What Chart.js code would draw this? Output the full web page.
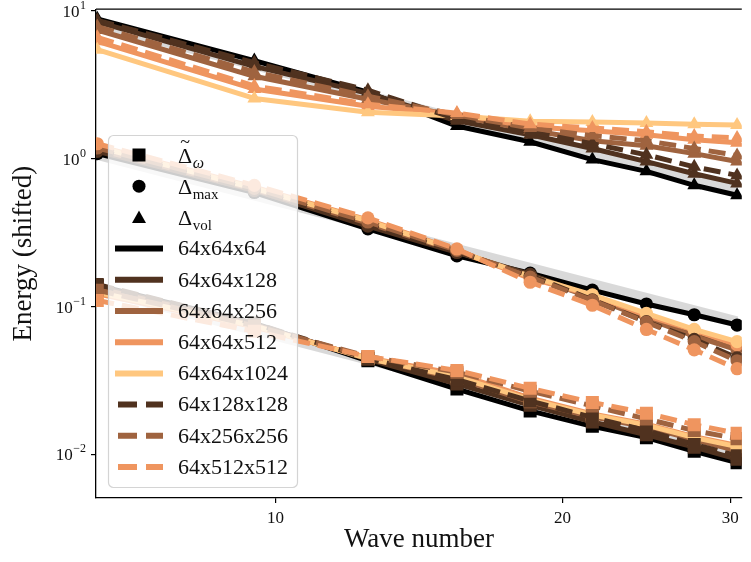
<!DOCTYPE html>
<html>
<head>
<meta charset="utf-8">
<script src="https://cdn.jsdelivr.net/npm/chart.js@4.4.1/dist/chart.umd.min.js"></script>
<style>
html,body{margin:0;padding:0;background:#fff;overflow:hidden}
canvas{display:block}
</style>
</head>
<body>
<canvas id="c" width="751" height="562"></canvas>
<script>
// ---------------- data ----------------
const waveNumbers = [6.5, 9.5, 12.5, 15.5, 18.5, 21.5, 24.5, 27.5, 30.5];
const resolutions = ['64x64x64','64x64x128','64x64x256','64x64x512','64x64x1024','64x128x128','64x256x256','64x512x512'];
const xTickValues = [10, 20, 30];
const yTickValues = [0.01, 0.1, 1, 10];

// Delta_vol (triangles)
const vol_64x64x64   = [8.8, 4.6, 2.81, 1.66, 1.30, 0.985, 0.82, 0.66, 0.565];
const vol_64x64x128  = [8.4, 4.2, 2.76, 1.80, 1.45, 1.17, 0.955, 0.79, 0.68];
const vol_64x64x256  = [7.4, 3.6, 2.52, 1.94, 1.56, 1.32, 1.22, 1.08, 0.955];
const vol_64x64x512  = [6.2, 2.95, 2.26, 2.00, 1.64, 1.54, 1.45, 1.34, 1.28];
const vol_64x64x1024 = [5.45, 2.55, 2.06, 1.94, 1.79, 1.77, 1.74, 1.71, 1.69];
const vol_64x128x128 = [8.6, 4.45, 2.9, 1.85, 1.52, 1.26, 1.06, 0.88, 0.77];
const vol_64x256x256 = [7.8, 3.85, 2.64, 1.97, 1.61, 1.43, 1.32, 1.17, 1.05];
const vol_64x512x512 = [6.6, 3.1, 2.33, 2.03, 1.71, 1.61, 1.52, 1.42, 1.38];

// Delta_max (circles)
const max_64x64x64   = [1.08, 0.59, 0.335, 0.22, 0.168, 0.129, 0.104, 0.088, 0.075];
const max_64x64x128  = [1.12, 0.61, 0.35, 0.232, 0.165, 0.116, 0.085, 0.067, 0.053];
const max_64x64x256  = [1.15, 0.62, 0.367, 0.236, 0.16, 0.115, 0.083, 0.063, 0.051];
const max_64x64x512  = [1.22, 0.64, 0.385, 0.24, 0.155, 0.119, 0.087, 0.069, 0.055];
const max_64x64x1024 = [1.2, 0.63, 0.38, 0.238, 0.16, 0.12, 0.09, 0.07, 0.058];
const max_64x128x128 = [1.14, 0.61, 0.357, 0.234, 0.162, 0.111, 0.079, 0.06, 0.045];
const max_64x256x256 = [1.18, 0.63, 0.373, 0.24, 0.158, 0.11, 0.0785, 0.058, 0.043];
const max_64x512x512 = [1.26, 0.66, 0.397, 0.245, 0.146, 0.102, 0.07, 0.051, 0.038];

// tilde Delta_omega (squares)
const om_64x64x64   = [0.139, 0.077, 0.043, 0.0277, 0.0197, 0.0155, 0.013, 0.0105, 0.0088];
const om_64x64x128  = [0.137, 0.076, 0.044, 0.030, 0.0215, 0.0166, 0.0136, 0.0112, 0.0093];
const om_64x64x256  = [0.133, 0.075, 0.0445, 0.0327, 0.0227, 0.018, 0.0153, 0.0126, 0.0106];
const om_64x64x512  = [0.122, 0.073, 0.045, 0.035, 0.024, 0.0188, 0.016, 0.0132, 0.0115];
const om_64x64x1024 = [0.125, 0.074, 0.0445, 0.0335, 0.0235, 0.0185, 0.0158, 0.013, 0.0113];
const om_64x128x128 = [0.141, 0.077, 0.0445, 0.032, 0.023, 0.0178, 0.0145, 0.0117, 0.0098];
const om_64x256x256 = [0.129, 0.074, 0.046, 0.036, 0.0268, 0.0213, 0.0174, 0.0145, 0.0128];
const om_64x512x512 = [0.11, 0.068, 0.046, 0.037, 0.028, 0.0225, 0.019, 0.0159, 0.0139];

// grey reference lines (end points at first and last wave number)
const refWaveNumbers = [6.5, 30.5];
const refVol   = [8.0, 0.61];
const refMax   = [1.05, 0.08];
const refOmega = [0.129, 0.0098];

// ---------------- styling ----------------
const copper = ['#000000', '#50321f', '#9f633f', '#ef955f', '#ffc77f'];
const resStyle = [
  {c: copper[0], dash: []}, {c: copper[1], dash: []}, {c: copper[2], dash: []},
  {c: copper[3], dash: []}, {c: copper[4], dash: []},
  {c: copper[1], dash: [17, 8]}, {c: copper[2], dash: [17, 8]}, {c: copper[3], dash: [17, 8]}
];
const groups = [
  {style: 'rect', radius: 9.2, series: [om_64x64x64, om_64x64x128, om_64x64x256, om_64x64x512, om_64x64x1024, om_64x128x128, om_64x256x256, om_64x512x512]},
  {style: 'circle', radius: 6.6, series: [max_64x64x64, max_64x64x128, max_64x64x256, max_64x64x512, max_64x64x1024, max_64x128x128, max_64x256x256, max_64x512x512]},
  {style: 'triangle', radius: 8, series: [vol_64x64x64, vol_64x64x128, vol_64x64x256, vol_64x64x512, vol_64x64x1024, vol_64x128x128, vol_64x256x256, vol_64x512x512]}
];
const LW = 5;
const SERIF = '"Liberation Serif", "DejaVu Serif", serif';

const datasets = [];
[refVol, refMax, refOmega].forEach((ref, i) => {
  datasets.push({
    label: 'ref' + i,
    data: refWaveNumbers.map((x, j) => ({x, y: ref[j]})),
    borderColor: 'rgba(0,0,0,0.15)', borderWidth: 9, pointRadius: 0,
    borderCapStyle: 'butt', fill: false, order: 1000, clip: 0
  });
});
let plotIndex = 0;
resolutions.forEach((res, r) => {
  groups.forEach(g => {
    const vals = g.series[r];
    datasets.push({
      label: res,
      data: waveNumbers.map((x, j) => ({x, y: vals[j]})),
      borderColor: resStyle[r].c,
      backgroundColor: resStyle[r].c,
      borderWidth: LW,
      borderDash: resStyle[r].dash,
      borderCapStyle: 'butt',
      borderJoinStyle: 'round',
      pointStyle: g.style,
      pointRadius: g.radius,
      pointBackgroundColor: resStyle[r].c,
      pointBorderColor: resStyle[r].c,
      pointBorderWidth: 0,
      tension: 0,
      fill: false,
      clip: 0,
      order: -(plotIndex++)
    });
  });
});

// ---------------- plugins ----------------
const frameAndLabels = {
  id: 'frameAndLabels',
  afterDraw(chart) {
    const {ctx, chartArea} = chart;
    const ys = chart.scales.y;
    ctx.save();
    // top spine
    ctx.strokeStyle = '#000'; ctx.lineWidth = 1.3;
    ctx.beginPath(); ctx.moveTo(chartArea.left, chartArea.top); ctx.lineTo(chartArea.right, chartArea.top); ctx.stroke();
    // y tick labels with raised exponents
    ctx.fillStyle = '#111';
    yTickValues.forEach(v => {
      const py = ys.getPixelForValue(v);
      const e = Math.round(Math.log10(v));
      const expText = (e < 0 ? '\u2212' : '') + Math.abs(e);
      ctx.font = '12px ' + SERIF;
      const ew = ctx.measureText(expText).width;
      const right = chartArea.left - 10;
      ctx.textAlign = 'left'; ctx.textBaseline = 'alphabetic';
      ctx.fillText(expText, right - ew, py - 2);
      ctx.font = '17px ' + SERIF;
      ctx.textAlign = 'right';
      ctx.fillText('10', right - ew - 0.5, py + 6);
    });
    ctx.restore();
  }
};

const boxLegend = {
  id: 'boxLegend',
  afterDatasetsDraw(chart) {
    const {ctx, chartArea} = chart;
    const bx = chartArea.left + 12, by = 135, bw = 189, bh = 352;
    ctx.save();
    ctx.beginPath();
    ctx.roundRect(bx + 0.5, by + 0.5, bw, bh, 5);
    ctx.fillStyle = 'rgba(255,255,255,0.8)';
    ctx.fill();
    ctx.strokeStyle = '#d4d4d4'; ctx.lineWidth = 1.2; ctx.stroke();

    const rowY = i => by + 20 + i * 31.2;
    const hx0 = bx + 7, hx1 = bx + 55, hxc = bx + 31, tx = bx + 70;
    ctx.fillStyle = '#000';
    // marker handles
    let y = rowY(0);
    ctx.fillRect(hxc - 6.5, y - 6.5, 13, 13);
    y = rowY(1);
    ctx.beginPath(); ctx.arc(hxc, y, 6.5, 0, 2 * Math.PI); ctx.fill();
    y = rowY(2);
    ctx.beginPath(); ctx.moveTo(hxc, y - 7); ctx.lineTo(hxc + 7, y + 5.5); ctx.lineTo(hxc - 7, y + 5.5); ctx.closePath(); ctx.fill();

    // marker labels
    const bigFont = '22px ' + SERIF, subFont = '15px ' + SERIF, subItalic = 'italic 16px ' + SERIF;
    ctx.textAlign = 'left'; ctx.textBaseline = 'alphabetic';
    ctx.fillStyle = '#111';
    [['\u0394', 'ω', subItalic, true], ['\u0394', 'max', subFont, false], ['\u0394', 'vol', subFont, false]].forEach((it, i) => {
      const base = rowY(i) + 8;
      ctx.font = bigFont;
      ctx.fillText(it[0], tx, base);
      const dw = ctx.measureText(it[0]).width;
      if (it[3]) {
        ctx.font = '18px ' + SERIF;
        ctx.textAlign = 'center';
        ctx.fillText('~', tx + dw / 2, base - 15);
        ctx.textAlign = 'left';
      }
      ctx.font = it[2];
      ctx.fillText(it[1], tx + dw + 0.5, base + 5);
    });
    // line handles
    resolutions.forEach((res, r) => {
      const yy = rowY(3 + r);
      ctx.strokeStyle = resStyle[r].c;
      ctx.lineWidth = 6;
      ctx.lineCap = 'butt';
      ctx.setLineDash(resStyle[r].dash.length ? [19, 9] : []);
      ctx.beginPath(); ctx.moveTo(hx0 + (resStyle[r].dash.length ? 3 : 0), yy); ctx.lineTo(hx1, yy); ctx.stroke();
      ctx.setLineDash([]);
      ctx.font = bigFont;
      ctx.fillStyle = '#111';
      ctx.textBaseline = 'middle';
      ctx.fillText(res, tx, yy + 1);
      ctx.textBaseline = 'alphabetic';
    });
    ctx.restore();
  }
};

// ---------------- chart ----------------
new Chart(document.getElementById('c'), {
  type: 'line',
  data: {datasets},
  options: {
    responsive: false,
    devicePixelRatio: 1,
    animation: false,
    events: [],
    layout: {padding: {top: 4, right: 0, bottom: 0, left: 0}},
    plugins: {legend: {display: false}, tooltip: {enabled: false}},
    scales: {
      x: {
        type: 'logarithmic',
        bounds: 'data',
        min: 6.48, max: 30.85,
        afterBuildTicks: s => { s.ticks = xTickValues.map(v => ({value: v})); },
        afterFit: s => { s.height = 64; s.paddingLeft = 0; s.paddingRight = 0; },
        ticks: {
          autoSkip: false, maxRotation: 0, padding: 5, color: '#111',
          font: {family: SERIF, size: 17},
          callback: v => String(v)
        },
        grid: {display: true, drawOnChartArea: false, drawTicks: true, tickLength: 5, color: '#000', lineWidth: 1.2},
        border: {display: true, color: '#000', width: 1.3},
        title: {display: true, text: 'Wave number', color: '#111', font: {family: SERIF, size: 27}, padding: {top: 0, bottom: 6}}
      },
      y: {
        type: 'logarithmic',
        bounds: 'data',
        min: 0.00508, max: 10.23,
        afterBuildTicks: s => { s.ticks = yTickValues.map(v => ({value: v})); },
        afterFit: s => { s.width = 96; s.paddingTop = 0; s.paddingBottom = 0; },
        ticks: {display: false},
        grid: {display: true, drawOnChartArea: false, drawTicks: true, tickLength: 5, color: '#000', lineWidth: 1.2},
        border: {display: true, color: '#000', width: 1.3},
        title: {display: true, text: 'Energy (shifted)', color: '#111', font: {family: SERIF, size: 27}, padding: {top: 8, bottom: 0}}
      }
    }
  },
  plugins: [boxLegend, frameAndLabels]
});
</script>
</body>
</html>
